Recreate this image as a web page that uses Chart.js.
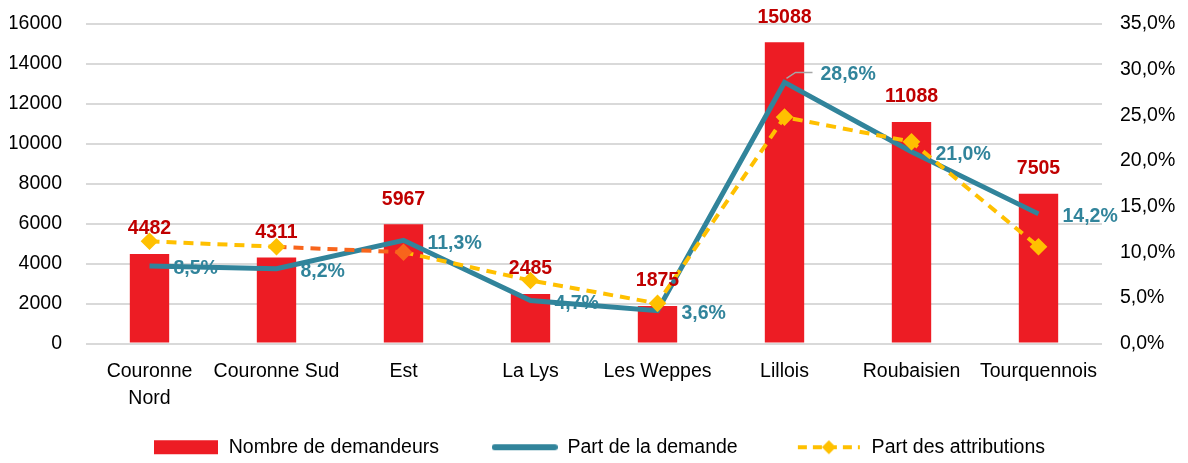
<!DOCTYPE html>
<html>
<head>
<meta charset="utf-8">
<script src="https://cdn.jsdelivr.net/npm/chart.js@4/dist/chart.umd.min.js"></script>
<style>
  body { margin: 0; background: #fff; }
</style>
</head>
<body>
<canvas id="chart" width="1188" height="463"></canvas>
<script>
const categories = [['Couronne', 'Nord'], 'Couronne Sud', 'Est', 'La Lys', 'Les Weppes', 'Lillois', 'Roubaisien', 'Tourquennois'];
const demandeurs = [4482, 4311, 5967, 2485, 1875, 15088, 11088, 7505];
const partDemande = [8.5, 8.2, 11.3, 4.7, 3.6, 28.6, 21.0, 14.2];
const partAttributions = [11.2, 10.6, 10.0, 6.9, 4.4, 24.8, 22.1, 10.6];

const RED = '#ed1c24';
const RED_TEXT = '#c00000';
const TEAL = '#31849b';
const YELLOW = '#ffc000';
const ORANGE = '#f8651c';
const FONT = "'Liberation Sans', Arial, sans-serif";
const FS = 19.5;

Chart.defaults.font.family = FONT;
Chart.defaults.font.size = FS;
Chart.defaults.color = '#000';

function fr(v) { return v.toFixed(1).replace('.', ',') + '%'; }

// small legend icons
function icon(draw) {
  const c = document.createElement('canvas');
  c.width = 66; c.height = 18;
  draw(c.getContext('2d'));
  return c;
}
const iconBar = icon(g => { g.fillStyle = RED; g.fillRect(1, 2, 64, 14); });
const iconTeal = icon(g => {
  g.strokeStyle = TEAL; g.lineWidth = 6; g.lineCap = 'round';
  g.beginPath(); g.moveTo(3, 9); g.lineTo(63, 9); g.stroke();
});
const iconYellow = icon(g => {
  g.strokeStyle = YELLOW; g.lineWidth = 4; g.setLineDash([9, 6]);
  g.beginPath(); g.moveTo(2, 9); g.lineTo(64, 9); g.stroke();
  g.fillStyle = YELLOW; g.beginPath();
  g.moveTo(33, 2); g.lineTo(40, 9); g.lineTo(33, 16); g.lineTo(26, 9); g.closePath(); g.fill();
});
const gaps = ['         ', '          ', ''];

const labelsPlugin = {
  id: 'valueLabels',
  afterDatasetsDraw(chart) {
    const ctx = chart.ctx;
    ctx.save();
    // bar values
    ctx.font = 'bold ' + FS + 'px ' + FONT;
    ctx.fillStyle = RED_TEXT;
    ctx.textAlign = 'center';
    ctx.textBaseline = 'middle';
    chart.getDatasetMeta(0).data.forEach((el, i) => {
      ctx.fillText(String(demandeurs[i]), el.x, el.y - 25);
    });
    // part de la demande
    ctx.fillStyle = TEAL;
    ctx.textAlign = 'left';
    chart.getDatasetMeta(1).data.forEach((el, i) => {
      if (i === 5) {
        ctx.strokeStyle = '#a6a6a6'; ctx.lineWidth = 1.5;
        ctx.beginPath(); ctx.moveTo(el.x + 2, el.y - 4); ctx.lineTo(el.x + 11, el.y - 10); ctx.lineTo(el.x + 28, el.y - 10); ctx.stroke();
        ctx.fillText(fr(partDemande[i]), el.x + 36, el.y - 8);
      } else {
        ctx.fillText(fr(partDemande[i]), el.x + 24, el.y + 3);
      }
    });
    ctx.restore();
  }
};

new Chart(document.getElementById('chart'), {
  data: {
    labels: categories,
    datasets: [
      {
        type: 'bar',
        label: 'Nombre de demandeurs',
        data: demandeurs,
        backgroundColor: RED,
        barPercentage: 0.31,
        categoryPercentage: 1,
        yAxisID: 'y',
        order: 3
      },
      {
        type: 'line',
        label: 'Part de la demande',
        data: partDemande,
        borderColor: TEAL,
        borderWidth: 5,
        pointRadius: 0,
        tension: 0,
        yAxisID: 'y2',
        order: 2
      },
      {
        type: 'line',
        label: 'Part des attributions',
        data: partAttributions,
        borderColor: YELLOW,
        borderWidth: 4,
        borderDash: [10, 7],
        pointStyle: 'rectRot',
        pointRadius: 6,
        pointBackgroundColor: (c) => c.dataIndex === 2 ? ORANGE : YELLOW,
        pointBorderColor: (c) => c.dataIndex === 2 ? ORANGE : YELLOW,
        segment: { borderColor: (c) => c.p0DataIndex === 1 ? ORANGE : undefined },
        tension: 0,
        yAxisID: 'y2',
        order: 1
      }
    ]
  },
  options: {
    responsive: false,
    animation: false,
    layout: { padding: { top: 24, bottom: -4, left: 10, right: 0 } },
    scales: {
      x: {
        grid: { display: false },
        border: { display: false },
        ticks: { maxRotation: 0, autoSkip: false, padding: 7, font: { size: FS, lineHeight: 1.38 } },
        afterFit(s) { s.height = 90; }
      },
      y: {
        position: 'left',
        min: 0, max: 16000,
        ticks: { stepSize: 2000, padding: 0, callback: (v) => String(v) },
        grid: { color: '#d9d9d9', lineWidth: 2, drawTicks: true, tickLength: 24, tickColor: 'transparent' },
        border: { display: false },
        afterFit(s) { s.width = 76; }
      },
      y2: {
        position: 'right',
        min: 0, max: 35,
        ticks: { stepSize: 5, padding: 0, callback: (v) => fr(v) },
        grid: { drawOnChartArea: false, drawTicks: true, tickLength: 18, tickColor: 'transparent' },
        border: { display: false },
        afterFit(s) { s.width = 86; }
      }
    },
    plugins: {
      tooltip: { enabled: false },
      legend: {
        position: 'bottom',
        labels: {
          usePointStyle: true,
          pointStyleWidth: 66,
          boxHeight: 18,
          padding: 4,
          font: { size: FS },
          generateLabels: (chart) => chart.data.datasets.map((ds, i) => ({
            text: ds.label + gaps[i],
            pointStyle: [iconBar, iconTeal, iconYellow][i],
            datasetIndex: i,
            hidden: false,
            fontColor: '#000',
            lineWidth: 0
          }))
        }
      }
    }
  },
  plugins: [labelsPlugin]
});
</script>
</body>
</html>
